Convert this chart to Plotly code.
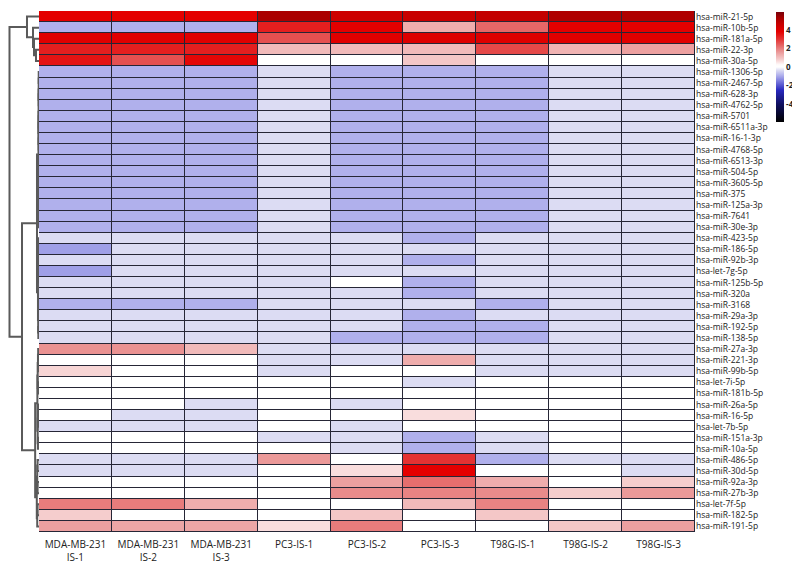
import plotly.graph_objects as go

samples = ["MDA-MB-231<br>IS-1", "MDA-MB-231<br>IS-2", "MDA-MB-231<br>IS-3",
           "PC3-IS-1", "PC3-IS-2", "PC3-IS-3", "T98G-IS-1", "T98G-IS-2", "T98G-IS-3"]

mirnas = ["hsa-miR-21-5p", "hsa-miR-10b-5p", "hsa-miR-181a-5p", "hsa-miR-22-3p", "hsa-miR-30a-5p",
          "hsa-miR-1306-5p", "hsa-miR-2467-5p", "hsa-miR-628-3p", "hsa-miR-4762-5p", "hsa-miR-5701",
          "hsa-miR-6511a-3p", "hsa-miR-16-1-3p", "hsa-miR-4768-5p", "hsa-miR-6513-3p", "hsa-miR-504-5p",
          "hsa-miR-3605-5p", "hsa-miR-375", "hsa-miR-125a-3p", "hsa-miR-7641", "hsa-miR-30e-3p",
          "hsa-miR-423-5p", "hsa-miR-186-5p", "hsa-miR-92b-3p", "hsa-let-7g-5p", "hsa-miR-125b-5p",
          "hsa-miR-320a", "hsa-miR-3168", "hsa-miR-29a-3p", "hsa-miR-192-5p", "hsa-miR-138-5p",
          "hsa-miR-27a-3p", "hsa-miR-221-3p", "hsa-miR-99b-5p", "hsa-let-7i-5p", "hsa-miR-181b-5p",
          "hsa-miR-26a-5p", "hsa-miR-16-5p", "hsa-let-7b-5p", "hsa-miR-151a-3p", "hsa-miR-10a-5p",
          "hsa-miR-486-5p", "hsa-miR-30d-5p", "hsa-miR-92a-3p", "hsa-miR-27b-3p", "hsa-let-7f-5p",
          "hsa-miR-182-5p", "hsa-miR-191-5p"]

# log2 fold change values (rows = miRNAs, columns = samples)
fold_change = [
    [3.8, 3.8, 3.8, 5.2, 4.5, 4.6, 4.7, 5.1, 5.1],
    [-0.9, -0.9, -0.9, 3.3, 3.8, 1.3, 2.3, 3.8, 3.8],
    [3.9, 3.9, 3.9, 2.6, 3.9, 4.0, 4.0, 3.9, 3.9],
    [3.3, 3.3, 3.3, 1.1, 1.1, 1.1, 2.7, 1.2, 1.5],
    [3.5, 2.6, 3.7, 0.0, 0.0, 0.9, 0.0, 0.0, 0.0],
    [-0.9, -0.9, -0.9, -0.35, -0.9, -0.9, -0.9, -0.35, -0.35],
    [-0.9, -0.9, -0.9, -0.35, -0.9, -0.9, -0.9, -0.35, -0.35],
    [-0.9, -0.9, -0.9, -0.35, -0.9, -0.9, -0.9, -0.35, -0.35],
    [-0.9, -0.9, -0.9, -0.35, -0.9, -0.9, -0.9, -0.35, -0.35],
    [-0.9, -0.9, -0.9, -0.35, -0.9, -0.9, -0.9, -0.35, -0.35],
    [-0.9, -0.9, -0.9, -0.35, -0.9, -0.9, -0.9, -0.35, -0.35],
    [-0.9, -0.9, -0.9, -0.35, -0.9, -0.9, -0.9, -0.35, -0.35],
    [-0.9, -0.9, -0.9, -0.35, -0.9, -0.9, -0.9, -0.35, -0.35],
    [-0.9, -0.9, -0.9, -0.35, -0.9, -0.9, -0.9, -0.35, -0.35],
    [-0.9, -0.9, -0.9, -0.35, -0.9, -0.9, -0.9, -0.35, -0.35],
    [-0.9, -0.9, -0.9, -0.35, -0.9, -0.9, -0.9, -0.35, -0.35],
    [-0.9, -0.9, -0.9, -0.35, -0.9, -0.9, -0.9, -0.35, -0.35],
    [-0.9, -0.9, -0.9, -0.35, -0.9, -0.9, -0.9, -0.35, -0.35],
    [-0.9, -0.9, -0.9, -0.35, -0.9, -0.9, -0.9, -0.35, -0.35],
    [-0.9, -0.9, -0.9, -0.35, -0.9, -0.9, -0.9, -0.35, -0.35],
    [-0.35, -0.35, -0.35, -0.35, -0.35, -0.9, -0.35, -0.35, -0.35],
    [-1.1, -0.35, -0.35, -0.35, -0.35, -0.35, -0.35, -0.35, -0.35],
    [-0.35, -0.35, -0.35, -0.35, -0.35, -0.9, -0.35, -0.35, -0.35],
    [-1.1, -0.35, -0.35, -0.35, -0.35, -0.35, -0.35, -0.35, -0.35],
    [-0.35, -0.35, -0.35, -0.35, 0.0, -0.9, -0.35, -0.35, -0.35],
    [-0.35, -0.35, -0.35, -0.35, -0.35, -0.9, -0.35, -0.35, -0.35],
    [-0.9, -0.9, -0.9, -0.35, -0.35, -0.35, -0.9, -0.35, -0.35],
    [-0.35, -0.35, -0.35, -0.35, -0.35, -0.9, -0.35, -0.35, -0.35],
    [-0.35, -0.35, -0.35, -0.35, -0.35, -0.9, -0.9, -0.35, -0.35],
    [-0.35, -0.35, -0.35, -0.35, -0.9, -0.9, -0.9, -0.35, -0.35],
    [1.7, 1.7, 1.1, -0.35, -0.35, -0.35, -0.35, -0.35, -0.35],
    [0.0, 0.0, 0.0, -0.35, -0.35, 1.3, -0.35, -0.35, -0.35],
    [0.7, 0.0, 0.0, -0.35, 0.0, 0.0, -0.35, -0.35, -0.35],
    [0.0, 0.0, 0.0, 0.0, 0.0, -0.35, 0.0, 0.0, 0.0],
    [0.0, 0.0, 0.0, 0.0, 0.0, 0.0, 0.0, 0.0, 0.0],
    [0.0, 0.0, -0.35, 0.0, -0.35, 0.0, 0.0, 0.0, 0.0],
    [0.0, -0.35, -0.35, 0.0, 0.0, 0.6, 0.0, 0.0, 0.0],
    [-0.35, -0.35, -0.35, 0.0, -0.35, 0.0, 0.0, 0.0, 0.0],
    [0.0, 0.0, 0.0, -0.35, -0.35, -0.9, -0.35, 0.0, 0.0],
    [0.0, 0.0, 0.0, 0.0, -0.35, -0.9, -0.35, 0.0, 0.0],
    [-0.35, -0.35, -0.35, 1.6, 0.0, 3.0, -0.9, -0.35, -0.35],
    [-0.35, -0.35, -0.35, 0.0, 0.6, 3.8, 0.0, 0.0, -0.35],
    [0.0, 0.0, 0.0, 0.0, 1.5, 2.2, 1.3, 0.0, 0.8],
    [0.0, 0.0, 0.0, 0.0, 1.8, 1.9, 1.8, 0.8, 1.6],
    [2.0, 2.0, 1.3, 0.0, 0.0, 1.1, 1.9, 0.0, 0.0],
    [0.8, 0.0, 0.0, 0.0, 0.9, 0.0, 0.9, 0.0, 0.0],
    [1.5, 1.4, 1.4, 0.6, 2.0, 0.0, 0.0, 0.9, 1.5],
]

colorbar_ticks = [-4, -2, 0, 2, 4]
colorbar_ticktext = ["-4", "-2", "0", "2", "4"]
z_limit = 5.9

# Row dendrogram: (height, left, right) with leaves = row index; "B" = balanced block of rows
row_tree = (10.0,
            (4.07, 0, (2.03, 1, (1.69, 2, (1.02, 3, 4)))),
            (5.76,
             (0.68, ("B", 5, 19, 0.2), ("B", 20, 29, 0.35)),
             (1.3, ("B", 30, 39, 0.55), ("B", 40, 46, 0.75))))

# ---------------------------------------------------------------
def balanced(lo, hi, h):
    if lo == hi:
        return lo
    mid = (lo + hi) // 2
    return (h, balanced(lo, mid, h * 0.8), balanced(mid + 1, hi, h * 0.8))


def expand(node):
    if isinstance(node, int):
        return node
    if node[0] == "B":
        return balanced(node[1], node[2], node[3])
    return (node[0], expand(node[1]), expand(node[2]))


seg_x, seg_y = [], []


def walk(node):
    if isinstance(node, int):
        return float(node), 0.0
    h, left, right = node
    yl, hl = walk(left)
    yr, hr = walk(right)
    seg_x.extend([hl, h, h, hr, None])
    seg_y.extend([yl, yl, yr, yr, None])
    return (yl + yr) / 2, h


walk(expand(row_tree))

stops = [(-5.9, "rgb(0,0,0)"), (-4.0, "rgb(15,15,95)"), (-2.5, "rgb(40,40,190)"),
         (-1.5, "rgb(125,125,222)"), (-0.9, "rgb(176,176,236)"), (-0.35, "rgb(220,220,243)"),
         (0.0, "rgb(255,255,255)"), (0.25, "rgb(255,250,250)"), (0.8, "rgb(245,205,205)"),
         (1.5, "rgb(236,160,160)"), (2.2, "rgb(230,110,110)"), (3.0, "rgb(228,50,50)"),
         (3.8, "rgb(228,0,0)"), (4.6, "rgb(200,0,0)"), (5.3, "rgb(165,0,0)"), (5.9, "rgb(120,0,10)")]
colorscale = [[(v + z_limit) / (2 * z_limit), c] for v, c in stops]

# page body has an 8px margin: work in figure pixels = screen pixels - 8
W, H, OFF = 792, 560, 8
L, R = (39 - OFF) / W, (695 - OFF) / W
B, T = 1 - (532 - OFF) / H, 1 - (11 - OFF) / H
n_rows, n_cols = len(mirnas), len(samples)
dendro_scale = 2.95  # px per height unit

fig = go.Figure()
fig.add_trace(go.Heatmap(
    z=fold_change, x=list(range(n_cols)), y=list(range(n_rows)),
    zmin=-z_limit, zmax=z_limit, colorscale=colorscale,
    xgap=1, ygap=1,
    colorbar=dict(x=(776 - OFF) / W, xanchor="left", xpad=0, ypad=0,
                  y=1 - (12 - OFF) / H, yanchor="top", len=110 / H, lenmode="fraction",
                  thickness=8, outlinewidth=0,
                  tickvals=colorbar_ticks, ticktext=colorbar_ticktext, ticks="",
                  tickfont=dict(family="Open Sans", size=8, color="#222", weight=700)),
))
fig.add_trace(go.Scatter(x=seg_x, y=seg_y, mode="lines", xaxis="x2", yaxis="y",
                         line=dict(color="#5a5a5a", width=2), hoverinfo="skip",
                         showlegend=False, cliponaxis=False))

fig.add_shape(type="rect", xref="x", yref="y", x0=-0.5, x1=n_cols - 0.5,
              y0=-0.5, y1=n_rows - 0.5, layer="below",
              fillcolor="#262636", line=dict(color="#262636", width=1))

fig.update_layout(
    width=W, height=H, margin=dict(l=0, r=0, t=0, b=0),
    paper_bgcolor="white", plot_bgcolor="white", showlegend=False,
    font=dict(family="Open Sans", color="#222"),
    xaxis=dict(domain=[L, R], range=[-0.5, n_cols - 0.5], tickvals=list(range(n_cols)),
               ticktext=samples, showgrid=False, zeroline=False, ticks="outside",
               ticklen=3, tickcolor="white", tickfont=dict(size=10, family="Open Sans", color="#222")),
    yaxis=dict(domain=[B, T], range=[n_rows - 0.5, -0.5], side="right",
               tickvals=list(range(n_rows)), ticktext=mirnas, showgrid=False,
               zeroline=False, ticks="", tickfont=dict(size=8.5, family="Open Sans", color="#222")),
    xaxis2=dict(domain=[0, L], range=[(39 - OFF) / dendro_scale, 0], anchor="y", showgrid=False,
                zeroline=False, showticklabels=False, ticks=""),
)

fig.write_html("out.html")
